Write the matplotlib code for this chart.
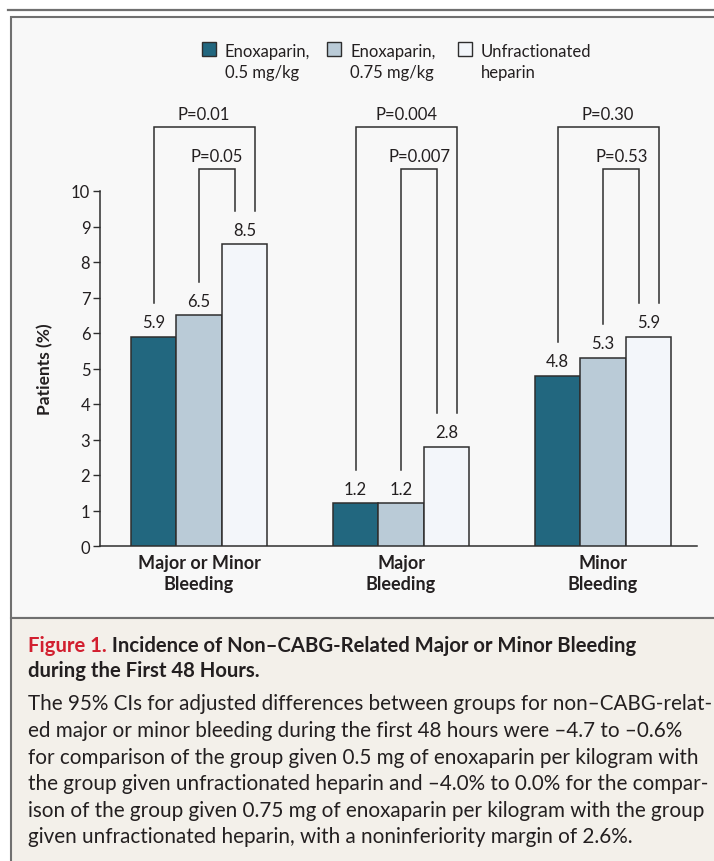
import matplotlib
matplotlib.use("Agg")
import matplotlib.pyplot as plt
from matplotlib.patches import Rectangle
from matplotlib.lines import Line2D
import numpy as np

plt.rcParams['font.family'] = ['Lato', 'DejaVu Sans']

# ---------------- data ----------------
categories = ["Major or Minor\nBleeding", "Major\nBleeding", "Minor\nBleeding"]
enox_05 = [5.9, 1.2, 4.8]
enox_075 = [6.5, 1.2, 5.3]
ufh = [8.5, 2.8, 5.9]
p_outer = ["P=0.01", "P=0.004", "P=0.30"]
p_inner = ["P=0.05", "P=0.007", "P=0.53"]
legend_labels = [("Enoxaparin,", "0.5 mg/kg"), ("Enoxaparin,", "0.75 mg/kg"),
                 ("Unfractionated", "heparin")]
y_ticks = list(range(0, 11))
y_label = "Patients (%)"
title_red = "Figure 1."
title_line1 = " Incidence of Non\u2013CABG-Related Major or Minor Bleeding"
title_line2 = "during the First 48 Hours."
body_lines = [
    "The 95% CIs for adjusted differences between groups for non\u2013CABG-relat-",
    "ed major or minor bleeding during the first 48 hours were \u20134.7 to \u20130.6%",
    "for comparison of the group given 0.5 mg of enoxaparin per kilogram with",
    "the group given unfractionated heparin and \u20134.0% to 0.0% for the compar-",
    "ison of the group given 0.75 mg of enoxaparin per kilogram with the group",
    "given unfractionated heparin, with a noninferiority margin of 2.6%.",
]

# ---------------- style ----------------
C_DARK = "#22677F"
C_LIGHT = "#BACBD7"
C_WHITE = "#F3F6FA"
C_EDGE = "#2E2E2E"
C_TEXT = "#231F20"
C_RED = "#D21F2F"
C_BORDER = "#707070"
C_PANEL = "#F8F8F8"
C_CAPTION = "#F3F0EA"

W, H = 714, 862
fig = plt.figure(figsize=(W / 100, H / 100), dpi=100)
fig.patch.set_facecolor("white")


def fx(x):
    return x / W


def fy(y):
    return 1 - y / H


# panel backgrounds
fig.add_artist(Rectangle((fx(11), fy(619)), fx(720) - fx(11), fy(18) - fy(619),
                         transform=fig.transFigure, facecolor=C_PANEL,
                         edgecolor=C_BORDER, lw=1.5, zorder=0))
fig.add_artist(Rectangle((fx(11), fy(870)), fx(720) - fx(11), fy(619) - fy(870),
                         transform=fig.transFigure, facecolor=C_CAPTION,
                         edgecolor=C_BORDER, lw=1.5, zorder=0))
# top rule
fig.add_artist(Line2D([fx(8), fx(714)], [fy(10.8), fy(10.8)], transform=fig.transFigure,
                      color=C_BORDER, lw=1.6))

# ---------------- axes ----------------
px_per_unit_y = 35.5
y0_px = 547
ymax = 12.6
ax = fig.add_axes([fx(100), fy(y0_px), fx(697) - fx(100), ymax * px_per_unit_y / H])
ax.set_facecolor("none")
ax.set_xlim(-0.490, 2.465)
ax.set_ylim(0, ymax)

w = 0.225
x = np.arange(len(categories))
ax.bar(x - w, enox_05, w, color=C_DARK, edgecolor=C_EDGE, lw=1.1, zorder=3)
ax.bar(x, enox_075, w, color=C_LIGHT, edgecolor=C_EDGE, lw=1.1, zorder=3)
ax.bar(x + w, ufh, w, color=C_WHITE, edgecolor=C_EDGE, lw=1.1, zorder=3)

for xs, vals in ((x - w, enox_05), (x, enox_075), (x + w, ufh)):
    for xi, v in zip(xs, vals):
        ax.text(xi, v + 0.27, f"{v:.1f}", ha="center", va="baseline",
                fontsize=12, color=C_TEXT)

# brackets
gap = 0.95
for i in range(len(categories)):
    # outer: 0.5 mg/kg vs UFH
    xl, xr = x[i] - w, x[i] + w + 0.05
    top = 11.79
    ax.plot([xl, xl, xr, xr], [enox_05[i] + gap, top, top, ufh[i] + gap],
            color=C_EDGE, lw=1.1, clip_on=False, solid_joinstyle="miter")
    ax.text((xl + xr) / 2, top + 0.23, p_outer[i], ha="center", va="baseline",
            fontsize=12, color=C_TEXT)
    # inner: 0.75 mg/kg vs UFH
    xl, xr = x[i], x[i] + w - 0.045
    top = 10.62
    ax.plot([xl, xl, xr, xr], [enox_075[i] + gap, top, top, ufh[i] + gap],
            color=C_EDGE, lw=1.1, clip_on=False, solid_joinstyle="miter")
    ax.text((xl + xr) / 2, top + 0.23, p_inner[i], ha="center", va="baseline",
            fontsize=12, color=C_TEXT)

for s in ("top", "right"):
    ax.spines[s].set_visible(False)
ax.spines["left"].set_bounds(0, 10)
for s in ("left", "bottom"):
    ax.spines[s].set_color(C_EDGE)
    ax.spines[s].set_linewidth(1.1)
ax.set_yticks(y_ticks)
ax.tick_params(axis="y", length=5, width=1.0, color=C_EDGE, labelsize=12,
               labelcolor=C_TEXT, pad=2)
ax.set_xticks(x)
ax.set_xticklabels(categories, fontsize=13, fontweight="bold", color=C_TEXT,
                   linespacing=1.25)
ax.tick_params(axis="x", length=0, pad=6)

fig.text(fx(45), fy(369), y_label, rotation=90, ha="center", va="center",
         fontsize=12.5, fontweight="bold", color=C_TEXT)

# ---------------- legend ----------------
sq_x = [202, 327, 457.5]
txt_x = [225, 350, 481]
for sx, tx, col, (l1, l2) in zip(sq_x, txt_x, [C_DARK, C_LIGHT, C_WHITE], legend_labels):
    fig.add_artist(Rectangle((fx(sx), fy(56.7)), fx(14), 14 / H, transform=fig.transFigure,
                             facecolor=col, edgecolor=C_EDGE, lw=1.0))
    fig.text(fx(tx), fy(56.7), l1, ha="left", va="baseline", fontsize=12, color=C_TEXT)
    fig.text(fx(tx), fy(77.7), l2, ha="left", va="baseline", fontsize=12, color=C_TEXT)

# ---------------- caption ----------------
renderer = fig.canvas.get_renderer()


def fit_size(text, target_px, weight="normal", base=12.0):
    t = fig.text(0, 0, text, fontsize=base, fontweight=weight)
    wpx = t.get_window_extent(renderer).width
    t.remove()
    return base * target_px / wpx


tsize = fit_size(title_red + title_line1, 605, weight="bold")
tr = fig.text(fx(28), fy(651.7), title_red, ha="left", va="baseline", fontsize=tsize,
              fontweight="bold", color=C_RED)
bb = tr.get_window_extent(renderer)
fig.text(bb.x1 / W, fy(651.7), title_line1, ha="left", va="baseline", fontsize=tsize,
         fontweight="bold", color=C_TEXT)
fig.text(fx(28), fy(676.7), title_line2, ha="left", va="baseline", fontsize=tsize,
         fontweight="bold", color=C_TEXT)

bsize = fit_size(body_lines[2], 667)
body_y = [710.5, 737.1, 763.7, 790.3, 816.9, 843.5]
for line, yb in zip(body_lines, body_y):
    fig.text(fx(28), fy(yb), line, ha="left", va="baseline", fontsize=bsize, color=C_TEXT)

fig.savefig("out.png", dpi=100, facecolor=fig.get_facecolor())
